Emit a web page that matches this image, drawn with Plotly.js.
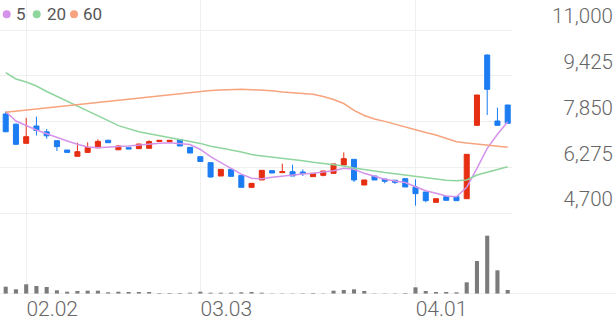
<!DOCTYPE html>
<html><head><meta charset="utf-8">
<script src="https://cdn.plot.ly/plotly-3.0.1.min.js"></script>
<style>html,body{margin:0;padding:0;background:#fff}#chart{width:616px;height:321px}</style>
</head><body><div id="chart"></div>
<script>
const dates = ["2026-01-29","2026-01-30","2026-02-02","2026-02-03","2026-02-04","2026-02-05","2026-02-06","2026-02-09","2026-02-10","2026-02-11",
"2026-02-12","2026-02-13","2026-02-19","2026-02-20","2026-02-23","2026-02-24","2026-02-25","2026-02-26","2026-02-27","2026-03-03",
"2026-03-04","2026-03-05","2026-03-06","2026-03-09","2026-03-10","2026-03-11","2026-03-12","2026-03-13","2026-03-16","2026-03-17",
"2026-03-18","2026-03-19","2026-03-20","2026-03-23","2026-03-24","2026-03-25","2026-03-26","2026-03-27","2026-03-30","2026-03-31",
"2026-04-01","2026-04-02","2026-04-03","2026-04-06","2026-04-07","2026-04-08","2026-04-09","2026-04-10","2026-04-13","2026-04-14"];
const openP = [8111,7760,7103,7700,7500,7194,6873,6655,6790,6950,7210,6880,6953,6919,6930,7165,7165,7235,6965,6644,6438,5979,6208,6002,5589,5842,6163,6094,6128,6117,5956,6002,6071,6357,6552,5670,5979,5876,5835,5888,5601,5429,5073,5268,5268,5199,7721,10140,7870,8421];
const highP = [8190,7790,7980,8020,7600,7194,6873,7125,7137,7240,7210,7045,6953,7080,7206,7206,7206,7235,6965,6644,6438,6208,6208,6002,5727,6174,6163,6403,6369,6208,6071,6151,6392,6793,6552,5842,5979,5876,5835,5888,5864,5429,5199,5268,5268,6724,8765,10160,8330,8421];
const lowP = [7490,7060,7103,7370,7260,6839,6790,6655,6790,6950,7125,6880,6908,6919,6930,7165,7165,7011,6770,6478,5922,5979,5967,5589,5589,5842,6082,6094,5979,5979,5956,5967,6071,6357,5773,5670,5842,5727,5700,5601,4959,5073,5073,5142,5131,5199,7721,8077,7721,7790];
const closeP = [7500,7068,7332,7545,7360,6988,6790,6816,6960,7170,7125,7011,6908,7080,7165,7206,7206,7011,6770,6478,5945,6208,5967,5589,5727,6174,6082,6128,5979,6071,6071,6151,6392,6575,5842,5842,5842,5796,5760,5601,5372,5131,5199,5142,5131,6724,8765,8960,7721,7790];
const ma5 = [8197,7871,7716,7561,7434,7303,7183,7073,6976,6949,6959,6994,7011,7045,7080,7104,7121,7104,7062,6890,6643,6436,6244,6045,5900,5886,5934,5979,6013,6048,6071,6117,6161,6244,6210,6071,5955,5866,5807,5756,5611,5473,5384,5291,5267,5591,6244,6932,7413,7847];
const ma20 = [9532,9315,9212,9074,8885,8720,8558,8404,8232,8056,7881,7712,7595,7503,7430,7368,7313,7241,7169,7100,7004,6942,6883,6804,6715,6674,6646,6605,6564,6505,6450,6416,6378,6323,6258,6199,6144,6100,6058,6013,5979,5927,5876,5831,5817,5841,6013,6116,6220,6299];
const ma60 = [8170,8208,8245,8283,8318,8355,8393,8431,8469,8507,8545,8582,8620,8655,8692,8730,8768,8806,8844,8882,8919,8937,8950,8961,8947,8933,8909,8871,8840,8816,8789,8713,8610,8472,8235,8060,7939,7857,7760,7647,7561,7475,7389,7269,7159,7114,7080,7035,7000,6967];
const volume = [730,470,970,800,700,370,230,300,330,330,170,230,200,200,200,100,100,100,130,230,130,130,130,170,200,130,50,50,50,70,100,50,330,400,470,300,50,50,50,100,670,300,200,200,170,1170,3300,5830,2370,400];
const tickDates = ["2026-02-02","2026-03-03","2026-04-01"];
const tickLabels = ["02.02","03.03","04.01"];
const priceTicks = [4700,6275,7850,9425,11000];
const maNames = ["5","20","60"];
const maColors = ["#d592ea","#8fd59e","#f7a37d"];

const priceRange = [4328.3, 12031.7];
const traces = [
  {type:'candlestick', x:dates, open:openP, high:highP, low:lowP, close:closeP, xaxis:'x', yaxis:'y',
   increasing:{line:{color:'#e62e12', width:1}, fillcolor:'#e62e12'},
   decreasing:{line:{color:'#1c7cf2', width:1}, fillcolor:'#1c7cf2'},
   hoverinfo:'skip', showlegend:false},
  {type:'bar', x:dates, y:volume, xaxis:'x', yaxis:'y2', marker:{color:'#7b7b7b'}, width:0.4, hoverinfo:'skip', showlegend:false}
];
[ma5, ma20, ma60].forEach((arr,i)=>{
  traces.push({type:'scatter', mode:'lines', x:dates, y:arr, xaxis:'x', yaxis:'y3',
    line:{color:maColors[i], width:1.5}, hoverinfo:'skip', showlegend:false});
});

const legendY = (294-14.3)/294;
const legendDotX = [6.7, 36.7, 74];
const legendTextX = [15, 46, 82];
const shapes = [
  {type:'line', xref:'paper', yref:'y2', x0:0, x1:1, y0:0, y1:0, line:{color:'#e2e2e2', width:1}}
];
const annotations = [];
maNames.forEach((n,i)=>{
  shapes.push({type:'circle', xref:'paper', yref:'paper', xsizemode:'pixel', ysizemode:'pixel',
    xanchor:legendDotX[i]/616, yanchor:legendY, x0:-4, x1:4, y0:-4, y1:4,
    fillcolor:maColors[i], line:{width:0}});
  annotations.push({xref:'paper', yref:'paper', x:legendTextX[i]/616, y:legendY, xanchor:'left', yanchor:'middle',
    text:n, showarrow:false, font:{family:'Roboto', size:17, color:'#555'}, borderpad:0});
});

const layout = {
  width:616, height:321,
  margin:{l:0, r:0, t:0, b:27, pad:0},
  paper_bgcolor:'#ffffff', plot_bgcolor:'#ffffff',
  showlegend:false,
  font:{family:'Roboto, sans-serif', color:'#666'},
  xaxis:{type:'category', domain:[0, 512/616], range:[-0.556, 49.42], anchor:'y2',
    showgrid:true, gridcolor:'#efefef', gridwidth:1, tickvals:tickDates, ticktext:tickLabels,
    ticks:'', showline:false, zeroline:false, tickfont:{family:'Roboto', size:21, color:'#666', weight:300},
    ticklabelshift:26, rangeslider:{visible:false}, fixedrange:true},
  yaxis:{domain:[70/294, 1], range:priceRange, side:'right', showticklabels:false, tickvals:priceTicks,
    showgrid:true, gridcolor:'#efefef', zeroline:false, showline:false, anchor:'x', fixedrange:true},
  yaxis3:{overlaying:'y', anchor:'free', position:0.995, side:'left', range:priceRange, tickvals:priceTicks,
    tickformat:',', showgrid:false, zeroline:false, showline:false, ticks:'',
    tickfont:{family:'Roboto', size:20.5, color:'#666', weight:300}, ticklabelshift:-14, fixedrange:true},
  yaxis2:{domain:[0, 70/294], range:[0, 7000], showticklabels:false, showgrid:false, zeroline:false, anchor:'x', fixedrange:true},
  shapes:shapes,
  annotations:annotations
};
Plotly.newPlot('chart', traces, layout, {staticPlot:true, displayModeBar:false});
</script></body></html>
